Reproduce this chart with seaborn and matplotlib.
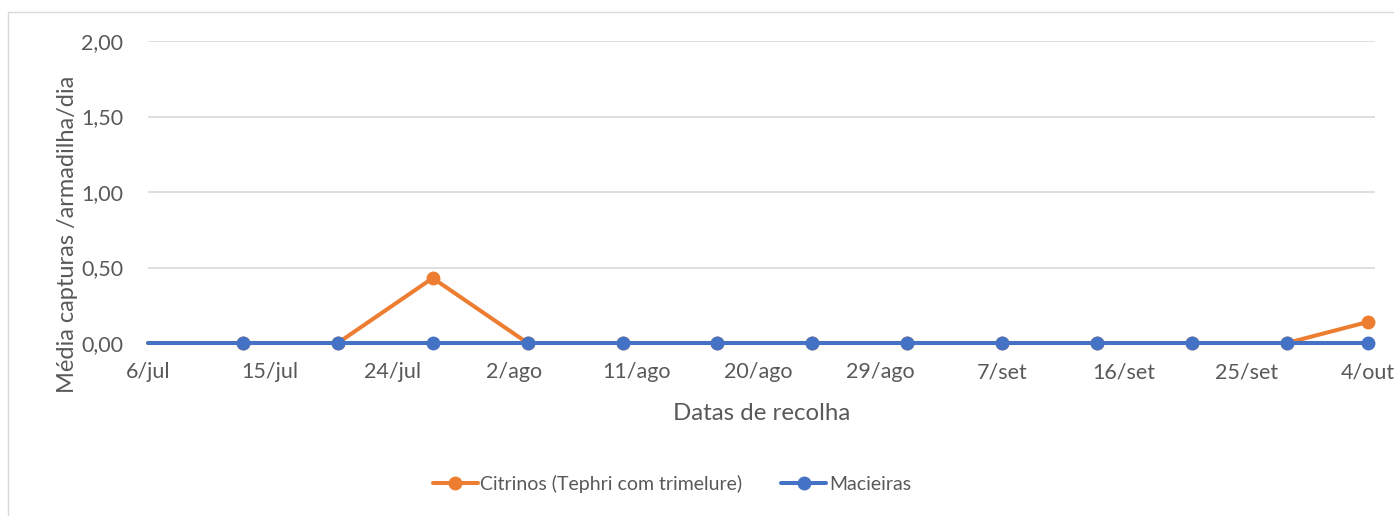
import pandas as pd
import seaborn as sns
import matplotlib.pyplot as plt
from matplotlib.patches import Rectangle
from matplotlib.ticker import FuncFormatter

# datas de recolha e médias de capturas
datas = pd.to_datetime([
    '2021-07-06', '2021-07-13', '2021-07-20', '2021-07-27', '2021-08-03',
    '2021-08-10', '2021-08-17', '2021-08-24', '2021-08-31', '2021-09-07',
    '2021-09-14', '2021-09-21', '2021-09-28', '2021-10-04',
])
citrinos = [0, 0, 0, 0.43, 0, 0, 0, 0, 0, 0, 0, 0, 0, 0.14]
macieiras = [0, 0, 0, 0, 0, 0, 0, 0, 0, 0, 0, 0, 0, 0]

tick_datas = pd.date_range('2021-07-06', '2021-10-04', freq='9D')
tick_labels = ['6/jul', '15/jul', '24/jul', '2/ago', '11/ago', '20/ago',
               '29/ago', '7/set', '16/set', '25/set', '4/out']

sns.set_style('white')
plt.rcParams['font.family'] = ['Lato', 'DejaVu Sans']
cinza = '#595959'

fig = plt.figure(figsize=(13.94, 5.16), dpi=100)
ax = fig.add_axes([148/1394, 1 - 343/516, (1375 - 148)/1394, (343 - 41)/516])

n = len(datas)
sns.lineplot(x=datas, y=citrinos, color='#ED7D31', lw=2.9, marker='o',
             markersize=10, markeredgewidth=0, markevery=list(range(1, n)),
             label='Citrinos (Tephri com trimelure)', ax=ax)
sns.lineplot(x=datas, y=macieiras, color='#4472C4', lw=2.9, marker='o',
             markersize=10, markeredgewidth=0, markevery=list(range(1, n)),
             label='Macieiras', ax=ax)
for ln in ax.lines:
    ln.set_clip_on(False)

ax.set_ylim(0, 2)
ax.set_yticks([0, 0.5, 1, 1.5, 2])
ax.yaxis.set_major_formatter(FuncFormatter(lambda v, p: f'{v:.2f}'.replace('.', ',')))
# a área do gráfico vai um pouco além de 4/out
ax.set_xlim(tick_datas[0], tick_datas[-1] + pd.Timedelta(hours=12))
ax.set_xticks(tick_datas)
ax.set_xticklabels(tick_labels)

ax.yaxis.grid(True, color='#D9D9D9', lw=1.2)
ax.xaxis.grid(False)
for s in ax.spines.values():
    s.set_visible(False)
ax.tick_params(axis='both', length=0, labelsize=15.5, labelcolor=cinza)
ax.tick_params(axis='x', pad=14)
ax.tick_params(axis='y', pad=18)

ax.set_xlabel('Datas de recolha', fontsize=17.3, color=cinza)
ax.set_ylabel('Média capturas /armadilha/dia', fontsize=17, color=cinza)
ax.xaxis.label.set_va('center')
ax.xaxis.set_label_coords(0.5, -(413 - 343)/302)
ax.yaxis.label.set_va('center')
ax.yaxis.set_label_coords((68 - 148)/1227, (343 - 234)/302)

ax.legend(loc='center', bbox_to_anchor=(672/1394, 32/516), bbox_transform=fig.transFigure,
          ncol=2, frameon=False, fontsize=14, handlelength=2.3, handletextpad=0.15,
          columnspacing=2.0, labelcolor=cinza)

fig.add_artist(Rectangle((8/1394, -0.1), 2, 1 - 12/516 + 0.1, transform=fig.transFigure,
                         fill=False, edgecolor='#D9D9D9', lw=1))

fig.savefig('out.png', dpi=100)
